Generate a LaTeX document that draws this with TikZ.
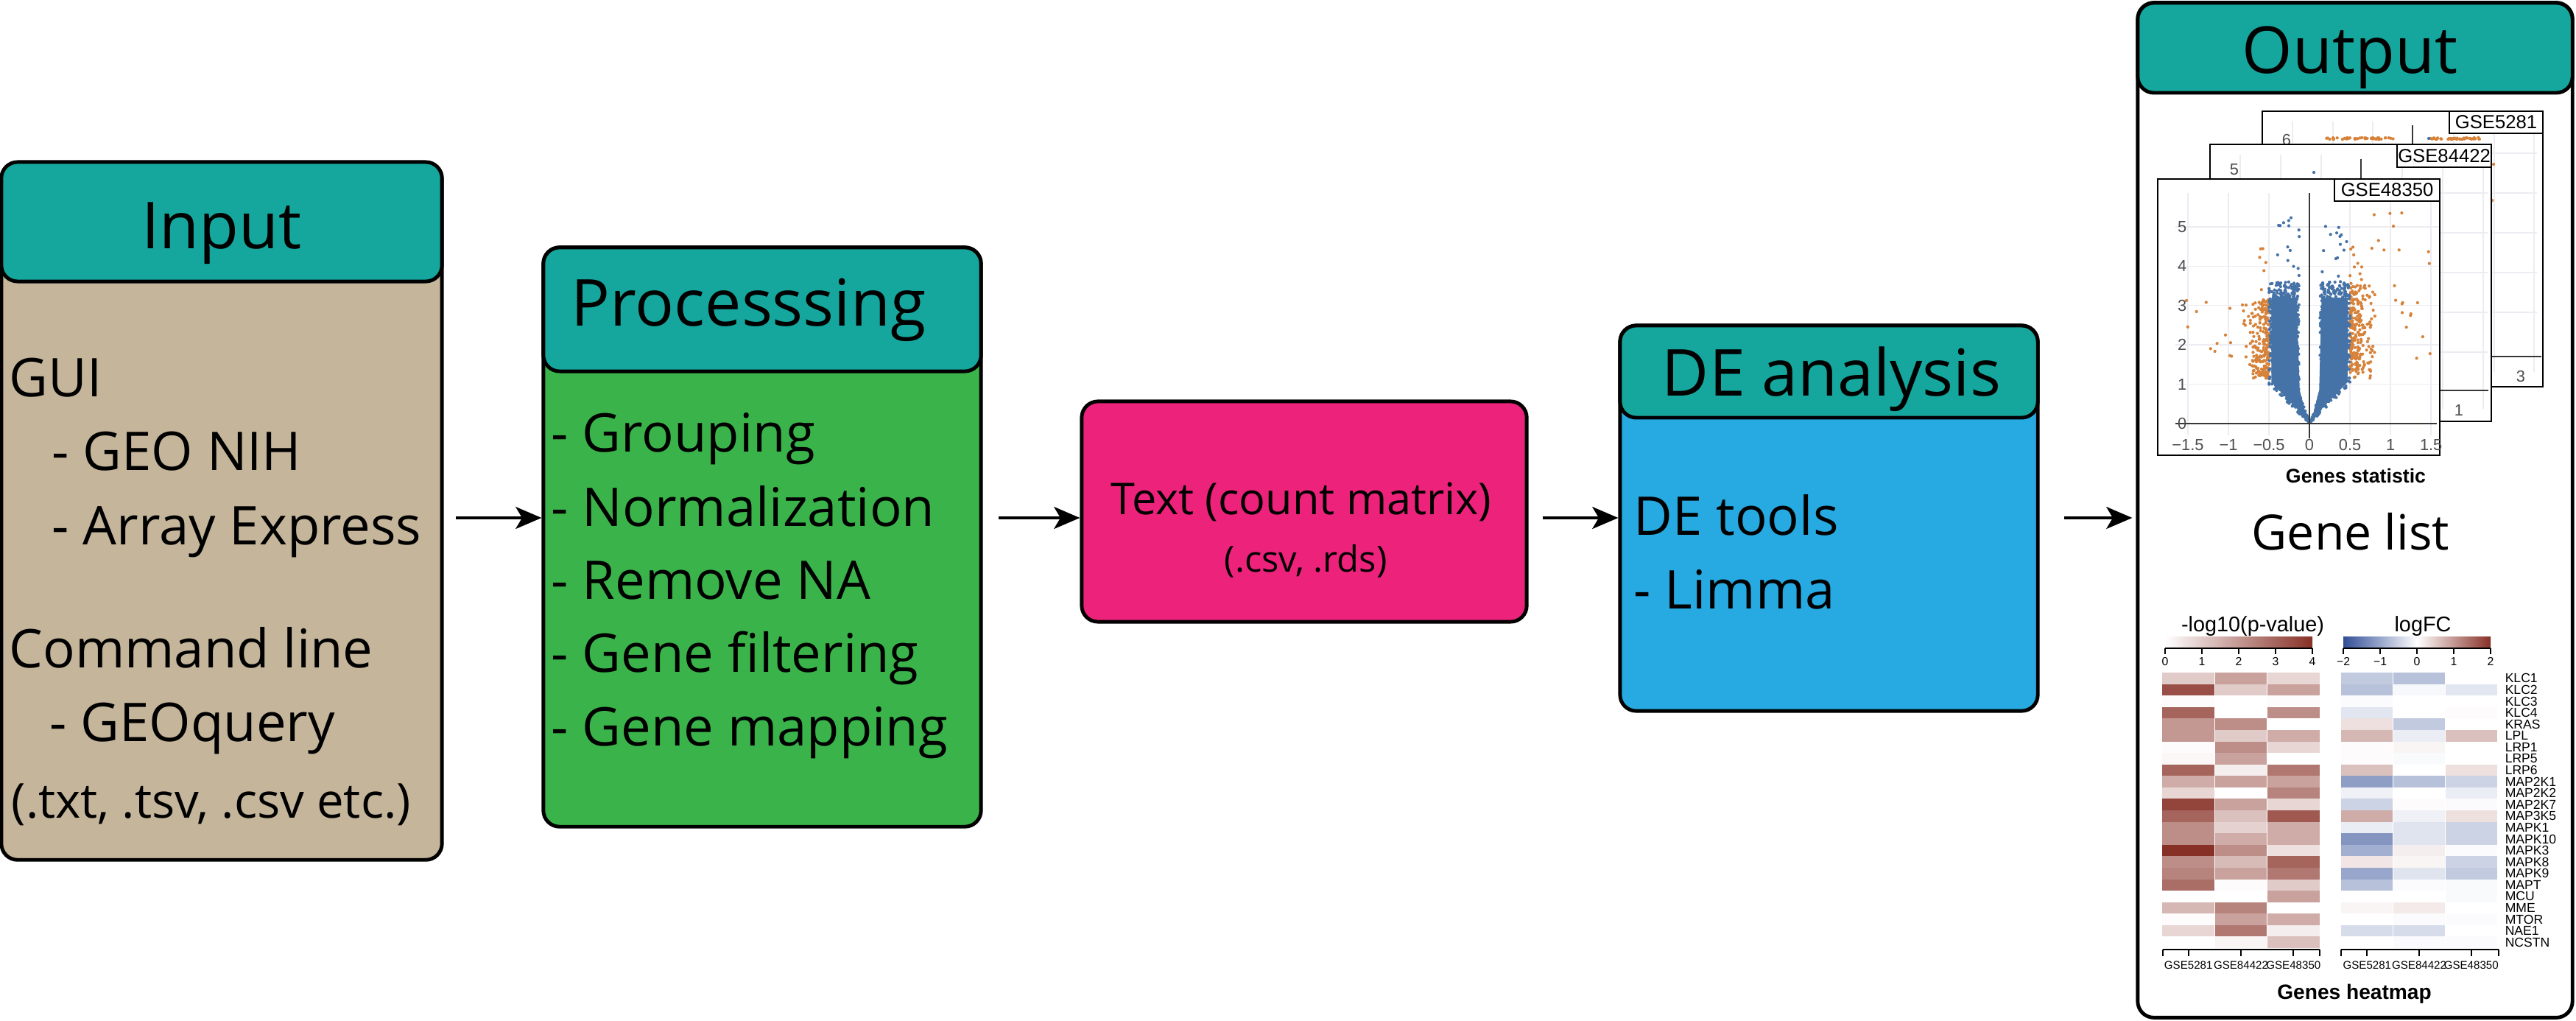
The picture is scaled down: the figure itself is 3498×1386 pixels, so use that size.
\documentclass[tikz,border=0pt]{standalone}
\usepackage{fontspec}
\setmainfont{Open Sans}
\newfontfamily\pf{Liberation Sans}
\usetikzlibrary{arrows.meta,calc}
\definecolor{teal1}{RGB}{21,167,157}
\definecolor{tanc}{RGB}{196,181,155}
\definecolor{greenc}{RGB}{58,180,74}
\definecolor{pinkc}{RGB}{236,34,123}
\definecolor{bluebox}{RGB}{39,170,225}
\definecolor{pend}{RGB}{135,48,38}
\definecolor{bend}{RGB}{50,78,150}
\definecolor{dotb}{RGB}{70,115,167}
\definecolor{doto}{RGB}{214,130,58}
\definecolor{gridc}{RGB}{236,236,242}
\definecolor{axc}{RGB}{55,55,55}
\definecolor{tickc}{RGB}{77,77,77}
\begin{document}
\begin{tikzpicture}[x=0.01cm, y=-0.01cm,
  box/.style={draw=black, line width=1.4pt, rounded corners=0.22cm, inner sep=0},
  hdr/.style={box, fill=teal1},
  ttl/.style={font=\fontsize{25}{30}\selectfont, anchor=base, inner sep=0},
  bt/.style={font=\fontsize{20.6}{25}\selectfont, anchor=base west, inner sep=0},
  arr/.style={line width=1.1pt, -{Stealth[length=10pt,width=8.5pt,inset=2.5pt]}},
  frm/.style={draw=black, line width=0.7pt, fill=white},
  labbox/.style={draw=black, line width=0.7pt, fill=white, inner sep=0, font=\pf\fontsize{7.3}{8}\selectfont},
  tl/.style={font=\pf\fontsize{6.2}{7}\selectfont, text=tickc, inner sep=0},
  gl/.style={font=\pf\fontsize{5}{6}\selectfont, anchor=west, inner sep=0},
  sl/.style={font=\pf\fontsize{4.3}{5}\selectfont, inner sep=0},
  cl/.style={font=\pf\fontsize{4.5}{5}\selectfont, inner sep=0},
  grd/.style={gridc, line width=0.4pt},
  dot/.style={radius=0.6pt}
]
\useasboundingbox (0,0) rectangle (3498,1386);

% ---------------- boxes ----------------
\node[box, fill=tanc, minimum width=5.98cm, minimum height=9.46cm] (inp) at (301,694) {};
\node[hdr, minimum width=5.98cm, minimum height=1.62cm] (inph) at (301,301) {};
\node[box, fill=greenc, minimum width=5.94cm, minimum height=7.86cm] (proc) at (1035,729) {};
\node[hdr, minimum width=5.94cm, minimum height=1.68cm] (proch) at (1035,420) {};
\node[box, fill=pinkc, minimum width=6.04cm, minimum height=2.99cm] (txt) at (1771,694.5) {};
\node[box, fill=bluebox, minimum width=5.67cm, minimum height=5.23cm] (de) at (2483.5,703.5) {};
\node[hdr, minimum width=5.67cm, minimum height=1.25cm] (deh) at (2483.5,504.5) {};
\node[box, fill=white, minimum width=5.90cm, minimum height=13.77cm] (out) at (3198,692.5) {};
\node[hdr, minimum width=5.90cm, minimum height=1.22cm] (outh) at (3198,65) {};

% ---------------- arrows ----------------
\coordinate (ay) at (0,703);
\draw[arr, shorten <=0.16cm] (inp.east |- ay) -- (proc.west |- ay);
\draw[arr, shorten <=0.21cm] (proc.east |- ay) -- (txt.west |- ay);
\draw[arr, shorten <=0.19cm] (txt.east |- ay) -- (de.west |- ay);
\draw[arr, shorten <=0.33cm, shorten >=0.05cm] (de.east |- ay) -- (out.west |- ay);

% ---------------- texts ----------------
\node[ttl] (tin) at (301,338) {Input};
\node[bt] (t1) at (12,539) {GUI};
\node[bt] (t2) at (70,639) {- GEO NIH};
\node[bt] (t3) at (70,740) {- Array Express};
\node[bt] (t4) at (12,906) {Command line};
\node[bt] (t5) at (67,1006) {- GEOquery};
\node[anchor=base west, inner sep=0, font=\fontsize{18.6}{22}\selectfont] (t6) at (15,1110) {(.txt, .tsv, .csv etc.)};

\node[ttl, anchor=base west] (tproc) at (775,443) {Processsing};
\node[bt] (p1) at (748,614) {- Grouping};
\node[bt] (p2) at (748,715) {- Normalization};
\node[bt] (p3) at (748,814) {- Remove NA};
\node[bt] (p4) at (748,912) {- Gene filtering};
\node[bt] (p5) at (748,1012) {- Gene mapping};

\node[anchor=base, inner sep=0, font=\fontsize{16.9}{20}\selectfont] (x1) at (1767,699) {Text (count matrix)};
\node[anchor=base, inner sep=0, font=\fontsize{13.9}{17}\selectfont] (x2) at (1773,777) {(.csv, .rds)};

\node[ttl] (tde) at (2487,538) {DE analysis};
\node[bt] (d1) at (2218,727) {DE tools};
\node[bt] (d2) at (2218,827) {- Limma};

\node[ttl] (tout) at (3191,100) {Output};
\node[anchor=base, inner sep=0, font=\fontsize{18.8}{22}\selectfont] (glist) at (3192,747) {Gene list};

% ---------------- volcano: back plot ----------------
\draw[frm] (3072,151) rectangle (3453,525);
\foreach \gx in {3113,3168,3222,3332,3387,3441} \draw[grd] (\gx,165) -- (\gx,505);
\foreach \gy in {208,262,316,370,424} \draw[grd] (3085,\gy) -- (3445,\gy);
\draw[axc, line width=0.5pt] (3276,170) -- (3276,500);
\draw[axc, line width=0.5pt] (3085,484) -- (3451,484);
\pgfmathsetseed{77}
\foreach \i in {1,...,45}{
  \fill[doto] (3158+92*rnd,188+1.2*rand) circle[dot];
  \fill[doto] (3300+69*rnd,188+1.2*rand) circle[dot];
}
\fill[dotb] (3298,188) circle[dot];
\fill[doto] (3386,223) circle[dot];
\fill[doto] (3384,272) circle[dot];
\node[tl] (b6) at (3105,190) {6};
\node[tl] (b3) at (3423,511) {3};
\node[labbox, minimum width=1.27cm, minimum height=0.30cm] (lab3) at (3389.5,166) {GSE5281};

% ---------------- volcano: middle plot ----------------
\draw[frm] (3001,196) rectangle (3383,572);
\foreach \gx in {3042,3097,3152,3262,3317,3372} \draw[grd] (\gx,210) -- (\gx,555);
\foreach \gy in {262,316,370,424,478} \draw[grd] (3015,\gy) -- (3378,\gy);
\draw[axc, line width=0.5pt] (3206,216) -- (3206,560);
\draw[axc, line width=0.5pt] (3015,530) -- (3379,530);
\fill[dotb] (3142,234) circle[dot];
\node[tl] (m5) at (3034,230) {5};
\node[tl] (m1) at (3339,557) {1};
\node[labbox, minimum width=1.28cm, minimum height=0.31cm] (lab2) at (3319,211.5) {GSE84422};

% ---------------- volcano: front plot ----------------
\draw[frm] (2930,243) rectangle (3313,618);
\begin{scope}
  \clip (2931,244) rectangle (3312,617);
  \begin{scope}[shift={(3136,575)}, x=1.10cm, y=0.534cm]
    \foreach \g in {-1.5,-1,...,1.5} \draw[grd] (\g,-0.3) -- (\g,5.85);
    \foreach \g in {1,...,5} \draw[grd] (-1.65,\g) -- (1.6,\g);
    \pgfmathsetseed{2718}
    % orange band
    \foreach \s/\top in {-1/2.0,1/2.4}{
      \foreach \i in {1,...,230}{
        \pgfmathsetmacro\a{0.5+0.36*rnd*rnd}
        \pgfmathsetmacro\yy{1.15+\top*rnd}
        \fill[doto] (\s*\a,\yy) circle[dot];
      }
    }
    % orange outliers
    \foreach \i in {1,...,12}{
      \pgfmathsetmacro\a{-(0.75+0.8*rnd)}
      \pgfmathsetmacro\yy{1.7+1.5*rnd}
      \fill[doto] (\a,\yy) circle[dot];
    }
    \foreach \i in {1,...,28}{
      \pgfmathsetmacro\a{0.6+0.9*rnd}
      \pgfmathsetmacro\yy{1.5+4.0*rnd}
      \fill[doto] (\a,\yy) circle[dot];
    }
    \foreach \i in {1,...,16}{
      \pgfmathsetmacro\a{(0.5+0.15*rnd)*(rnd<0.5 ? -1 : 1)}
      \pgfmathsetmacro\yy{3.4+1.2*rnd}
      \fill[doto] (\a,\yy) circle[dot];
    }
    % blue core
    \fill[dotb] (0.03,0.12) -- (0.47,1.05) -- (0.47,3.2) -- (0.15,3.2) -- (0.12,0.85) -- cycle;
    \fill[dotb] (-0.03,0.12) -- (-0.47,1.05) -- (-0.47,3.2) -- (-0.16,3.2) -- (-0.12,0.85) -- cycle;
    \foreach \s in {-1,1}{
      \foreach \i in {1,...,650}{
        \pgfmathsetmacro\yy{3.6*rnd^0.8}
        \pgfmathsetmacro\lo{min(0.13,0.16*\yy)}
        \pgfmathsetmacro\hi{min(0.5,0.5*\yy)}
        \pgfmathsetmacro\a{\lo+(\hi-\lo)*rnd}
        \fill[dotb] (\s*\a,\yy) circle[dot];
      }
    }
    % blue outliers
    \foreach \i in {1,...,34}{
      \pgfmathsetmacro\a{(0.12+0.36*rnd)*(rnd<0.5 ? -1 : 1)}
      \pgfmathsetmacro\yy{3.4+1.9*rnd}
      \fill[dotb] (\a,\yy) circle[dot];
    }
    \draw[axc, line width=0.5pt] (-1.65,0) -- (1.57,0);
    \draw[axc, line width=0.5pt] (0,-0.37) -- (0,5.86);
  \end{scope}
\end{scope}
\begin{scope}[shift={(3136,575)}, x=1.10cm, y=0.534cm]
  \foreach \g in {0,...,5} \node[tl] at (-1.57,\g) {\g};
  \foreach \v/\t in {-1.5/−1.5, -1/−1, -0.5/−0.5, 0/0, 0.5/0.5, 1/1, 1.5/1.5}
    \node[tl] at (\v,-0.54) {\t};
\end{scope}
\node[labbox, minimum width=1.43cm, minimum height=0.30cm] (lab1) at (3241.5,258) {GSE48350};
\node[anchor=base, inner sep=0, font=\pf\bfseries\fontsize{7.6}{9}\selectfont] (gstat) at (3199,656) {Genes statistic};

% ---------------- heatmap ----------------
\node[anchor=base, inner sep=0, font=\pf\fontsize{8.2}{10}\selectfont] (hp) at (3059,857) {-log10(p-value)};
\node[anchor=base, inner sep=0, font=\pf\fontsize{8.2}{10}\selectfont] (hf) at (3290,857) {logFC};
\shade[left color=white, right color=pend] (2940,864) rectangle (3140,879);
\shade[left color=bend, right color=pend, middle color=white] (3182,864) rectangle (3382,879);
\draw[line width=0.5pt] (2940,880) -- (3140,880);
\draw[line width=0.5pt] (3182,880) -- (3382,880);
\foreach \tx/\tt in {2940/0, 2990/1, 3040/2, 3090/3, 3140/4}{
  \draw[line width=0.5pt] (\tx,880) -- (\tx,888);
  \node[cl] at (\tx,898) {\tt};
}
\foreach \tx/\tt in {3182/−2, 3232/−1, 3282/0, 3332/1, 3382/2}{
  \draw[line width=0.5pt] (\tx,880) -- (\tx,888);
  \node[cl] at (\tx,898) {\tt};
}
\foreach \g/\a/\b/\c/\d/\e/\f [count=\r from 0] in {
  KLC1/25/45/20/bend!30/bend!35/pend!0,
  KLC2/85/25/45/bend!35/bend!4/bend!14,
  KLC3/2/0/2/bend!2/pend!0/pend!0,
  KLC4/75/0/55/bend!14/pend!0/pend!2,
  KRAS/50/55/0/pend!15/bend!30/pend!0,
  LPL/50/25/40/pend!35/bend!10/pend!30,
  LRP1/2/55/20/pend!2/pend!5/pend!0,
  LRP5/4/45/0/pend!2/bend!3/pend!0,
  LRP6/75/8/65/pend!30/pend!0/pend!15,
  MAP2K1/40/45/45/bend!55/bend!35/bend!25,
  MAP2K2/20/0/60/bend!8/pend!0/bend!10,
  MAP2K7/90/45/20/bend!25/pend!2/bend!2,
  MAP3K5/75/30/80/pend!40/bend!8/pend!15,
  MAPK1/55/22/40/bend!10/bend!15/bend!25,
  MAPK10/55/40/40/bend!60/bend!15/bend!25,
  MAPK3/100/55/15/bend!45/pend!8/bend!2,
  MAPK8/55/33/75/pend!12/pend!5/bend!25,
  MAPK9/60/45/65/bend!50/bend!15/bend!30,
  MAPT/70/2/25/bend!35/bend!2/bend!3,
  MCU/0/0/45/pend!0/pend!0/bend!3,
  MME/35/60/0/pend!5/pend!10/pend!0,
  MTOR/2/45/40/pend!0/bend!2/bend!2,
  NAE1/20/65/8/bend!20/bend!20/pend!0,
  NCSTN/0/5/30/pend!0/bend!2/bend!2}{
  \pgfmathsetmacro\yt{913+15.583*\r}
  \pgfmathsetmacro\yb{928.7+15.583*\r}
  \fill[fill=pend!\a!white] (2936,\yt) rectangle (3007.3,\yb);
  \fill[fill=pend!\b!white] (3007.3,\yt) rectangle (3078.7,\yb);
  \fill[fill=pend!\c!white] (3078.7,\yt) rectangle (3150,\yb);
  \fill[fill=\d!white] (3179,\yt) rectangle (3249.7,\yb);
  \fill[fill=\e!white] (3249.7,\yt) rectangle (3320.3,\yb);
  \fill[fill=\f!white] (3320.3,\yt) rectangle (3391,\yb);
  \node[gl] at (3401,\yt+7.8) {\g};
}
\foreach \sx in {3007.3,3078.7,3249.7,3320.3} \draw[white, line width=0.4pt] (\sx,913) -- (\sx,1287);
\draw[line width=0.5pt] (2937,1289) -- (3150,1289);
\draw[line width=0.5pt] (3179,1289) -- (3393,1289);
\foreach \tx in {2937,2971.7,3043,3114.3,3150,3179,3214.3,3285,3355.7,3393}
  \draw[line width=0.5pt] (\tx,1289) -- (\tx,1298);
\foreach \tx/\tt in {2971.7/GSE5281, 3043/GSE84422, 3114.3/GSE48350, 3214.3/GSE5281, 3285/GSE84422, 3355.7/GSE48350}
  \node[sl] at (\tx,1310) {\tt};
\node[anchor=base, inner sep=0, font=\pf\bfseries\fontsize{8}{10}\selectfont] (ghm) at (3197,1356) {Genes heatmap};
\end{tikzpicture}
\end{document}
